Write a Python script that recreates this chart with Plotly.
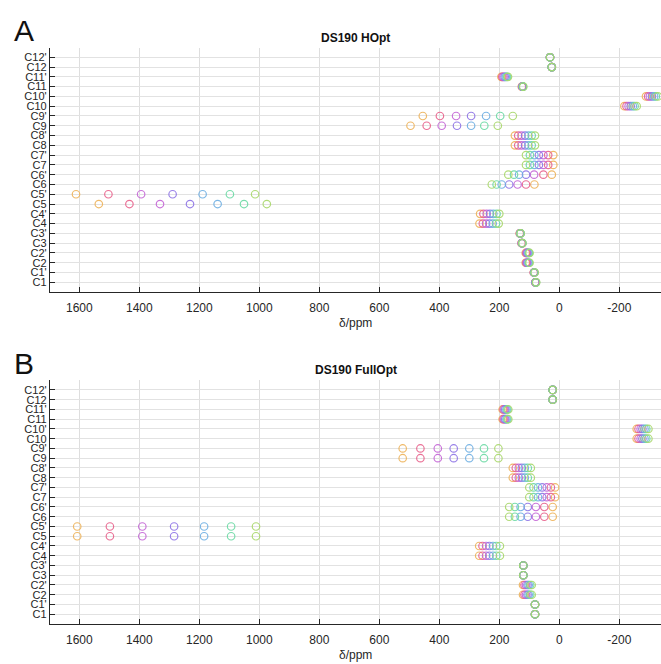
import plotly.graph_objects as go

# Atom labels, bottom to top
atoms = ["C1", "C1'", "C2", "C2'", "C3", "C3'", "C4", "C4'", "C5", "C5'", "C6", "C6'",
         "C7", "C7'", "C8", "C8'", "C9", "C9'", "C10", "C10'", "C11", "C11'", "C12", "C12'"]

# Colour of each of the seven shift sets
set_colors = ["#EDB25A", "#E8628C", "#C466D6", "#8E74E6", "#6EAEE2", "#6CD9A4", "#A8D76A"]

# Shifts (ppm) for DS190 HOpt: one row per atom, seven sets per row
hopt_shifts = [
    [80, 80, 79, 79, 78, 78, 77],            # C1
    [85, 85, 84, 84, 83, 83, 82],            # C1'
    [112, 110, 108, 106, 103, 101, 99],      # C2
    [112, 110, 108, 106, 103, 101, 99],      # C2'
    [126, 125, 125, 124, 124, 123, 123],     # C3
    [132, 131, 131, 130, 130, 129, 129],     # C3'
    [266, 255, 244, 233, 222, 211, 202],     # C4
    [264, 253, 242, 231, 220, 209, 200],     # C4'
    [1535, 1433, 1331, 1231, 1139, 1051, 975],   # C5
    [1611, 1503, 1394, 1289, 1189, 1098, 1014],  # C5'
    [83, 111, 139, 167, 192, 209, 225],      # C6
    [25, 53, 84, 111, 134, 151, 170],        # C6'
    [20, 37, 53, 68, 83, 98, 111],           # C7
    [20, 37, 53, 68, 83, 98, 111],           # C7'
    [148, 137, 126, 114, 103, 92, 81],       # C8
    [148, 137, 126, 114, 103, 92, 81],       # C8'
    [496, 442, 392, 341, 294, 250, 205],     # C9
    [455, 398, 344, 294, 244, 197, 155],     # C9'
    [-217, -224, -231, -238, -245, -251, -258],  # C10
    [-289, -296, -302, -309, -316, -322, -329],  # C10'
    [125, 124, 123, 122, 122, 121, 120],     # C11
    [193, 190, 186, 182, 178, 174, 171],     # C11'
    [25, 25, 25, 25, 25, 25, 25],            # C12
    [31, 31, 31, 31, 31, 31, 31],            # C12'
]

# Shifts (ppm) for DS190 FullOpt
fullopt_shifts = [
    [81, 81, 81, 81, 81, 81, 81],            # C1
    [81, 81, 81, 81, 81, 81, 81],            # C1'
    [121, 116, 111, 106, 102, 97, 92],       # C2
    [121, 116, 111, 106, 102, 97, 92],       # C2'
    [120, 120, 120, 120, 120, 120, 120],     # C3
    [120, 120, 120, 120, 120, 120, 120],     # C3'
    [267, 256, 244, 233, 221, 210, 198],     # C4
    [267, 256, 244, 233, 221, 210, 198],     # C4'
    [1607, 1498, 1390, 1284, 1184, 1094, 1011],  # C5
    [1607, 1498, 1390, 1284, 1184, 1094, 1011],  # C5'
    [22, 50, 78, 105, 129, 148, 167],        # C6
    [22, 50, 78, 105, 129, 148, 167],        # C6'
    [14, 28, 42, 57, 71, 86, 100],           # C7
    [14, 28, 42, 57, 71, 86, 100],           # C7'
    [155, 145, 135, 125, 115, 105, 95],      # C8
    [155, 145, 135, 125, 115, 105, 95],      # C8'
    [522, 463, 405, 352, 300, 251, 203],     # C9
    [522, 463, 405, 352, 300, 251, 203],     # C9'
    [-258, -264, -271, -277, -284, -290, -297],  # C10
    [-258, -264, -271, -277, -284, -290, -297],  # C10'
    [189, 186, 183, 180, 176, 173, 170],     # C11
    [189, 186, 183, 180, 176, 173, 170],     # C11'
    [22, 22, 22, 22, 22, 22, 22],            # C12
    [22, 22, 22, 22, 22, 22, 22],            # C12'
]

panel_titles = ["DS190 HOpt", "DS190 FullOpt"]
panel_letters = ["A", "B"]
x_ticks = [1600, 1400, 1200, 1000, 800, 600, 400, 200, 0, -200]
x_title = "δ/ppm"

FONT = "Liberation Sans, Arial, Helvetica, sans-serif"
W, H = 661, 664

# Pixel geometry of the two plot boxes (top, bottom)
boxes = [(47.5, 292.1), (380.2, 624.0)]
x_left = 50.0

fig = go.Figure()
y_idx = list(range(1, len(atoms) + 1))

for p, shifts in enumerate([hopt_shifts, fullopt_shifts]):
    xa = "x" if p == 0 else "x2"
    ya = "y" if p == 0 else "y2"
    for s, col in enumerate(set_colors):
        fig.add_trace(go.Scatter(
            x=[row[s] for row in shifts], y=y_idx,
            mode="markers", xaxis=xa, yaxis=ya, showlegend=False,
            marker=dict(symbol="circle-open", size=7.5, color=col,
                        opacity=0.9, line=dict(width=1.2, color=col)),
            hoverinfo="x+y",
        ))

axis_common = dict(
    range=[1697.7, -339], tickvals=x_ticks, ticktext=[str(v) for v in x_ticks],
    showgrid=True, gridcolor="#dedede", gridwidth=1, zeroline=False,
    showline=True, linecolor="#262626", linewidth=1.3,
    ticks="inside", ticklen=5, tickwidth=1.2, tickcolor="#262626",
    ticklabelstandoff=4,
    tickfont=dict(family=FONT, size=12, color="#262626"), mirror=False,
)
yaxis_common = dict(
    range=[0, 25], tickvals=y_idx, ticktext=atoms,
    showgrid=True, gridcolor="#e2e2e2", gridwidth=1, zeroline=False,
    showline=True, linecolor="#262626", linewidth=1.3,
    ticks="inside", ticklen=5, tickwidth=1.2, tickcolor="#262626",
    tickfont=dict(family=FONT, size=11, color="#262626"), mirror=False,
)

dom_x = [x_left / W, 1.0]
doms_y = [[1 - b / H, 1 - t / H] for (t, b) in boxes]

fig.update_layout(
    width=W, height=H, margin=dict(l=0, r=0, t=0, b=0),
    paper_bgcolor="white", plot_bgcolor="white",
    xaxis=dict(domain=dom_x, anchor="y", **axis_common),
    yaxis=dict(domain=doms_y[0], anchor="x", **yaxis_common),
    xaxis2=dict(domain=dom_x, anchor="y2", **axis_common),
    yaxis2=dict(domain=doms_y[1], anchor="x2", **yaxis_common),
)

cx = (x_left + W) / 2 / W
annotations = []
for p, (t, b) in enumerate(boxes):
    annotations.append(dict(text="<b>" + panel_titles[p] + "</b>", x=cx, y=1 - (t - 10) / H,
                            xref="paper", yref="paper", showarrow=False,
                            xanchor="center", yanchor="middle",
                            font=dict(family=FONT, size=12, color="#111")))
    annotations.append(dict(text=x_title, x=cx, y=1 - (b + 31) / H,
                            xref="paper", yref="paper", showarrow=False,
                            xanchor="center", yanchor="middle",
                            font=dict(family=FONT, size=12, color="#262626")))
    annotations.append(dict(text=panel_letters[p], x=12 / W, y=1 - (t - 17) / H,
                            xref="paper", yref="paper", showarrow=False,
                            xanchor="left", yanchor="middle",
                            font=dict(family=FONT, size=30, color="#111")))
fig.update_layout(annotations=annotations)

fig.write_html("out.html")
